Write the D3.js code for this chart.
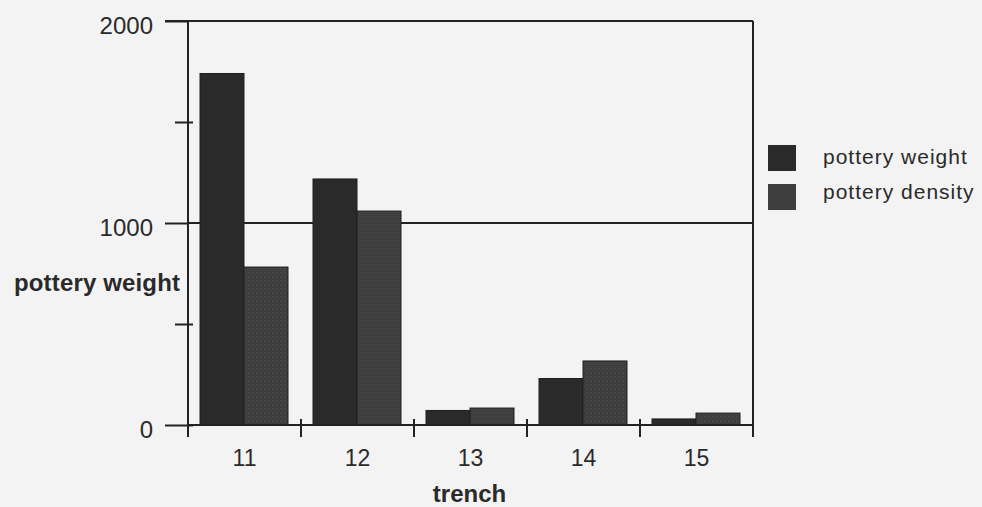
<!DOCTYPE html>
<html>
<head>
<meta charset="utf-8">
<script src="https://cdn.jsdelivr.net/npm/d3@7"></script>
<style>
  html, body { margin: 0; padding: 0; background: #f3f3f3; }
  svg { display: block; }
  text { font-family: "Liberation Sans", Arial, Helvetica, sans-serif; fill: #2a2a2a; }
</style>
</head>
<body>
<svg id="chart" width="982" height="507"></svg>
<script>
const categories = ["11", "12", "13", "14", "15"];
const seriesNames = ["pottery weight", "pottery density"];
const potteryWeight = [1740, 1218, 72, 230, 30];
const potteryDensity = [782, 1059, 84, 317, 59];
const yTickLabels = [0, 1000, 2000];
const yMinorTicks = [500, 1500];
const xTitle = "trench";
const yTitle = "pottery weight";

(function () {
const colors = { "pottery weight": "#2a2a2a", "pottery density": "#3e3e3e" };
const ink = "#222";

const svg = d3.select("#chart");
const pLeft = 188, pRight = 753, pTop = 21, pBottom = 425;

const x = d3.scaleBand().domain(categories).range([pLeft, pRight]).paddingInner(0).paddingOuter(0);
const x1 = d3.scaleBand().domain(seriesNames).range([12, x.bandwidth() - 13]).padding(0);
const y = d3.scaleLinear().domain([0, 2000]).range([pBottom, pTop]);

const data = categories.map((c, i) => ({ cat: c, values: [
  { key: seriesNames[0], value: potteryWeight[i] },
  { key: seriesNames[1], value: potteryDensity[i] }
]}));

const defs = svg.append("defs");
const pat = defs.append("pattern").attr("id", "tex").attr("patternUnits", "userSpaceOnUse")
  .attr("width", 4).attr("height", 4);
pat.append("rect").attr("width", 4).attr("height", 4).attr("fill", colors["pottery density"]);
pat.append("rect").attr("x", 0).attr("y", 0).attr("width", 1).attr("height", 1).attr("fill", "#555");
pat.append("rect").attr("x", 2).attr("y", 2).attr("width", 1).attr("height", 1).attr("fill", "#4a4a4a");

svg.append("line").attr("x1", pLeft).attr("x2", pRight).attr("y1", y(1000)).attr("y2", y(1000))
  .attr("stroke", ink).attr("stroke-width", 2);

const g = svg.append("g");
g.selectAll("g.grp").data(data).join("g").attr("class", "grp")
  .attr("transform", d => `translate(${x(d.cat)},0)`)
  .selectAll("rect").data(d => d.values).join("rect")
  .attr("x", d => x1(d.key))
  .attr("width", x1.bandwidth())
  .attr("y", d => y(d.value))
  .attr("height", d => y(0) - y(d.value))
  .attr("fill", d => d.key === seriesNames[1] ? "url(#tex)" : colors[d.key])
  .attr("stroke", "#1e1e1e").attr("stroke-width", 1);

svg.append("line").attr("x1", 165).attr("x2", pRight).attr("y1", pTop).attr("y2", pTop)
  .attr("stroke", ink).attr("stroke-width", 2);
svg.append("line").attr("x1", pRight).attr("x2", pRight).attr("y1", pTop).attr("y2", pBottom)
  .attr("stroke", ink).attr("stroke-width", 2);

const yAxis = d3.axisLeft(y).tickValues(yTickLabels).tickSize(23).tickPadding(12).tickFormat(d3.format("d"));
const ya = svg.append("g").attr("transform", `translate(${pLeft},0)`).call(yAxis);
ya.select(".domain").remove();
ya.selectAll(".tick line").attr("stroke", ink).attr("stroke-width", 2).attr("x1", d => d === 0 ? 5 : 0);
ya.selectAll(".tick text").attr("font-size", 24).attr("dy", "0.5em")
  .style("font-family", "'Liberation Sans', Arial, sans-serif").attr("fill", "#2a2a2a");
svg.append("line").attr("x1", pLeft).attr("x2", pLeft).attr("y1", pTop).attr("y2", pBottom + 12)
  .attr("stroke", ink).attr("stroke-width", 2);

const yMinor = d3.axisLeft(y).tickValues(yMinorTicks).tickSize(13).tickFormat("");
const ym = svg.append("g").attr("transform", `translate(${pLeft},0)`).call(yMinor);
ym.select(".domain").remove();
ym.selectAll(".tick line").attr("stroke", ink).attr("stroke-width", 2).attr("x1", 5);

const xAxis = d3.axisBottom(x).tickSize(0).tickPadding(25);
const xa = svg.append("g").attr("transform", `translate(0,${pBottom})`).call(xAxis);
xa.select(".domain").remove();
xa.selectAll(".tick text").attr("font-size", 23)
  .style("font-family", "'Liberation Sans', Arial, sans-serif").attr("fill", "#2a2a2a");
svg.append("line").attr("x1", pLeft).attr("x2", pRight).attr("y1", pBottom).attr("y2", pBottom)
  .attr("stroke", ink).attr("stroke-width", 2);
const bounds = categories.map(c => x(c)).concat([x(categories[categories.length - 1]) + x.step()]);
svg.append("g").selectAll("line").data(bounds).join("line")
  .attr("x1", d => d).attr("x2", d => d)
  .attr("y1", pBottom - 6).attr("y2", pBottom + 12)
  .attr("stroke", ink).attr("stroke-width", 2);

svg.append("text").attr("x", (pLeft + pRight) / 2 - 1).attr("y", 502).attr("text-anchor", "middle")
  .attr("font-size", 24).attr("font-weight", "bold").text(xTitle);
svg.append("text").attr("x", 14).attr("y", 291)
  .attr("font-size", 24).attr("font-weight", "bold").attr("letter-spacing", "0.15px").text(yTitle);

const leg = svg.append("g");
seriesNames.forEach((s, i) => {
  leg.append("rect").attr("x", 768).attr("y", 145 + i * 39).attr("width", 28).attr("height", 26)
    .attr("fill", colors[s]);
  leg.append("text").attr("x", 823).attr("y", 164 + i * 35).attr("font-size", 21)
    .attr("letter-spacing", "1px").text(s);
});
})();
</script>
</body>
</html>
